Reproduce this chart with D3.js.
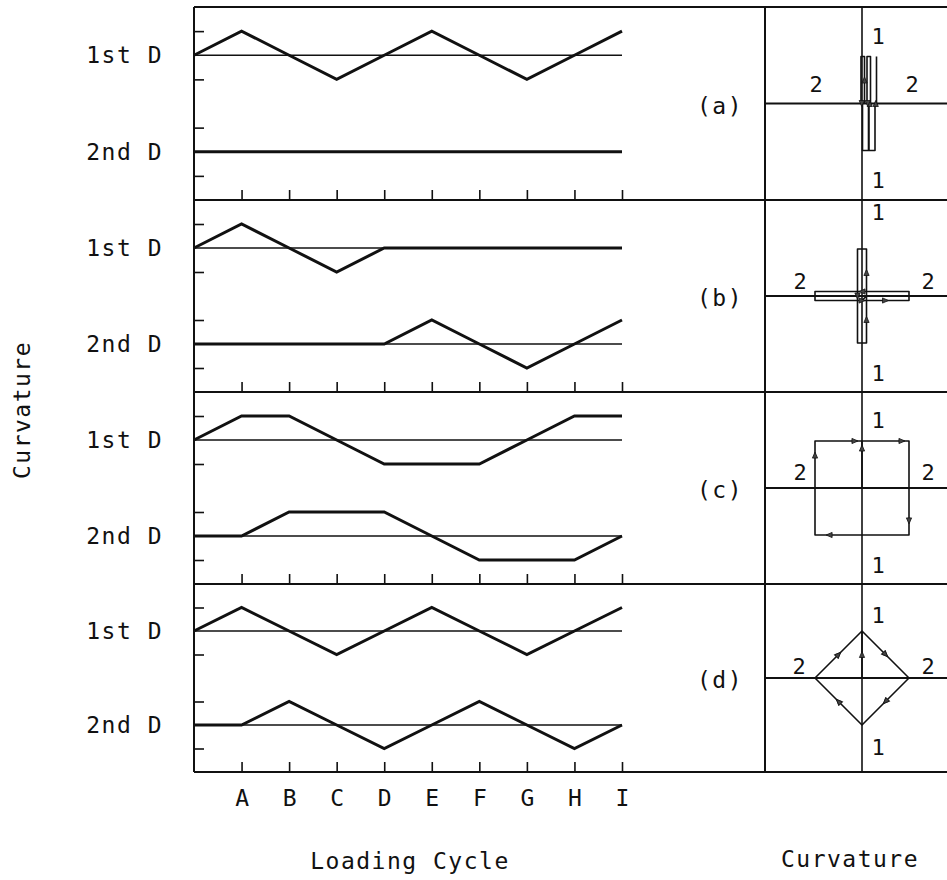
<!DOCTYPE html>
<html><head><meta charset="utf-8">
<script src="https://cdn.jsdelivr.net/npm/d3@7"></script>
<style>
html,body{margin:0;padding:0;background:#fff;}
svg{display:block;}
text{font-family:"DejaVu Sans Mono",monospace;fill:#111;}
</style></head><body>
<svg id="chart" width="947" height="880"></svg>
<script>
// Loading steps: the unlabeled origin, then the lettered steps
const cycleLabels = ["A","B","C","D","E","F","G","H","I"];
const steps = ["O"].concat(cycleLabels);
const panelNames = ["(a)","(b)","(c)","(d)"];
const rowLabels = ["1st D","2nd D"];
const orbitAxisLabels = ["1","2"];
const leftTickValues = [3, 1, -1, -3];

// Curvature in the 1st and 2nd direction at each step (unit amplitude)
const firstD_a  = [0, 1, 0, -1, 0, 1, 0, -1, 0, 1];
const secondD_a = [0, 0, 0, 0, 0, 0, 0, 0, 0, 0];
const firstD_b  = [0, 1, 0, -1, 0, 0, 0, 0, 0, 0];
const secondD_b = [0, 0, 0, 0, 0, 1, 0, -1, 0, 1];
const firstD_c  = [0, 1, 1, 0, -1, -1, -1, 0, 1, 1];
const secondD_c = [0, 0, 1, 1, 1, 0, -1, -1, -1, 0];
const firstD_d  = [0, 1, 0, -1, 0, 1, 0, -1, 0, 1];
const secondD_d = [0, 0, 1, 0, -1, 0, 1, 0, -1, 0];

const panels = [
  {name: panelNames[0], first: firstD_a, second: secondD_a},
  {name: panelNames[1], first: firstD_b, second: secondD_b},
  {name: panelNames[2], first: firstD_c, second: secondD_c},
  {name: panelNames[3], first: firstD_d, second: secondD_d}
];

// ---- layout ----
const plotLeft = 194, plotEnd = 622, splitX = 765, rightEdge = 947, orbitX = 862;
const edges = [7, 200, 392, 584, 772];
// how each orbit is drawn: side gap / drift for retraced paths, arrow position along a run
const orbitStyle = [
  {gap: 2.5, drift: 1.5, arrowAt: 0.5},
  {gap: 4.5, drift: 0, arrowAt: 0.5},
  {gap: 0, drift: 0, arrowAt: 0.85},
  {gap: 0, drift: 0, arrowAt: 0.5}
];
// placement of the "1" and "2" axis names inside each orbit panel
const orbitLabelPos = [
  {top: 29, bottom: 20, left: 816, right: 912, lift: 19},
  {top: 12, bottom: 19, left: 800, right: 928, lift: 15},
  {top: 28, bottom: 19, left: 800, right: 928, lift: 16},
  {top: 31, bottom: 25, left: 799, right: 928, lift: 12}
];

const svg = d3.select("#chart");
const ink = "#111";

const x = d3.scalePoint().domain(steps).range([plotLeft, plotEnd]);

const frame = svg.append("g").attr("stroke", ink).attr("fill", "none");
// outer frame and panel separators
edges.forEach(yv => frame.append("line")
  .attr("x1", plotLeft).attr("x2", rightEdge).attr("y1", yv).attr("y2", yv)
  .attr("stroke-width", 2));
frame.append("line").attr("x1", plotLeft).attr("x2", plotLeft)
  .attr("y1", edges[0]).attr("y2", edges[4]).attr("stroke-width", 2);
frame.append("line").attr("x1", splitX).attr("x2", splitX)
  .attr("y1", edges[0]).attr("y2", edges[4]).attr("stroke-width", 2);
frame.append("line").attr("x1", orbitX).attr("x2", orbitX)
  .attr("y1", edges[0]).attr("y2", edges[4]).attr("stroke-width", 1.6);

panels.forEach((p, k) => {
  const top = edges[k], bottom = edges[k + 1];
  const y = d3.scaleLinear().domain([4, -4]).range([top, bottom]);
  const g = svg.append("g");

  // left axis ticks
  const ya = g.append("g").attr("transform", `translate(${plotLeft},0)`)
    .call(d3.axisRight(y).tickValues(leftTickValues).tickSize(10).tickFormat(""));
  ya.select(".domain").remove();
  ya.selectAll("line").attr("stroke", ink).attr("stroke-width", 1.6);

  // step ticks along the bottom of the panel
  const xa = g.append("g").attr("transform", `translate(0,${bottom})`)
    .call(d3.axisTop(x).tickValues(cycleLabels).tickSize(10).tickFormat(""));
  xa.select(".domain").remove();
  xa.selectAll("line").attr("stroke", ink).attr("stroke-width", 1.6);

  // zero lines for each direction
  [2, -2].forEach(base => g.append("line")
    .attr("x1", x("O")).attr("x2", x("I"))
    .attr("y1", y(base)).attr("y2", y(base))
    .attr("stroke", ink).attr("stroke-width", 1.6));

  // curvature histories
  const series = [{vals: p.first, base: 2}, {vals: p.second, base: -2}];
  series.forEach((s, r) => {
    const line = d3.line().x((d, i) => x(steps[i])).y(d => y(s.base + d));
    g.append("path").datum(s.vals).attr("d", line)
      .attr("fill", "none").attr("stroke", ink).attr("stroke-width", 3)
      .attr("stroke-linejoin", "miter");
    g.append("text").attr("x", 163).attr("y", y(s.base))
      .attr("text-anchor", "end").attr("dominant-baseline", "central")
      .attr("font-size", 23).attr("letter-spacing", 1.5)
      .text(rowLabels[r]);
  });

  // panel name
  const cy = (top + bottom) / 2;
  g.append("text").attr("x", 720).attr("y", cy + 2)
    .attr("text-anchor", "middle").attr("dominant-baseline", "central")
    .attr("font-size", 23).attr("letter-spacing", 1.5).text(p.name);

  // ---- curvature orbit: 2nd D horizontal, 1st D vertical ----
  const ox = d3.scaleLinear().domain([-1, 1]).range([815, 909]);
  const oy = d3.scaleLinear().domain([-1, 1]).range([cy + 47, cy - 47]);
  g.append("line").attr("x1", splitX).attr("x2", rightEdge)
    .attr("y1", cy).attr("y2", cy).attr("stroke", ink).attr("stroke-width", 1.8);

  const st = orbitStyle[k];
  const pts = p.first.map((f, i) => [ox(p.second[i]), oy(f)]);
  const segs = [];
  for (let i = 0; i < pts.length - 1; i++) {
    const a = pts[i], b = pts[i + 1];
    const dx = b[0] - a[0], dy = b[1] - a[1], len = Math.hypot(dx, dy);
    if (len < 1e-6) continue;
    const ux = dx / len, uy = dy / len;
    const offX = -uy * st.gap + st.drift * segs.length, offY = ux * st.gap;
    segs.push({a: [a[0] + offX, a[1] + offY], b: [b[0] + offX, b[1] + offY], ux, uy});
  }
  const poly = [];
  segs.forEach(s => { poly.push(s.a, s.b); });
  g.append("path").attr("d", d3.line()(poly))
    .attr("fill", "none").attr("stroke", ink).attr("stroke-width", 1.6)
    .attr("stroke-linejoin", "round");

  // direction arrows, one per straight run
  const runs = [];
  segs.forEach(s => {
    const last = runs[runs.length - 1];
    if (last && Math.abs(last.ux - s.ux) < 1e-6 && Math.abs(last.uy - s.uy) < 1e-6) last.b = s.b;
    else runs.push({a: s.a, b: s.b, ux: s.ux, uy: s.uy});
  });
  runs.forEach(r => {
    const t = st.arrowAt;
    const px = r.a[0] + (r.b[0] - r.a[0]) * t, py = r.a[1] + (r.b[1] - r.a[1]) * t;
    const L = 6, Wd = 2.6;
    const tip = [px + r.ux * L / 2, py + r.uy * L / 2];
    const bx = px - r.ux * L / 2, by = py - r.uy * L / 2;
    const l = [bx - r.uy * Wd, by + r.ux * Wd], rr = [bx + r.uy * Wd, by - r.ux * Wd];
    g.append("path").attr("d", `M${tip}L${l}L${rr}Z`)
      .attr("fill", "#444").attr("stroke", ink).attr("stroke-width", 0.8);
  });

  // axis names
  const lp = orbitLabelPos[k];
  const lab = (tx, ty, s) => g.append("text").attr("x", tx).attr("y", ty)
    .attr("text-anchor", "middle").attr("dominant-baseline", "central")
    .attr("font-size", 22).text(s);
  lab(878, top + lp.top, orbitAxisLabels[0]);
  lab(878, bottom - lp.bottom, orbitAxisLabels[0]);
  lab(lp.left, cy - lp.lift, orbitAxisLabels[1]);
  lab(lp.right, cy - lp.lift, orbitAxisLabels[1]);
});

// step letters under the bottom panel
const xl = svg.append("g").attr("transform", `translate(0,${edges[4]})`)
  .call(d3.axisBottom(x).tickValues(cycleLabels).tickSize(0).tickPadding(18));
xl.select(".domain").remove();
xl.selectAll("text").attr("font-size", 23).attr("fill", ink)
  .attr("font-family", "DejaVu Sans Mono, monospace");

// axis titles
svg.append("text").attr("x", 410).attr("y", 869).attr("text-anchor", "middle")
  .attr("font-size", 23).attr("letter-spacing", 1.5).text("Loading Cycle");
svg.append("text").attr("x", 850).attr("y", 867).attr("text-anchor", "middle")
  .attr("font-size", 23).attr("letter-spacing", 1.5).text("Curvature");
svg.append("text").attr("transform", "translate(30,410) rotate(-90)")
  .attr("text-anchor", "middle").attr("font-size", 23).attr("letter-spacing", 1.5)
  .text("Curvature");
</script>
</body></html>
